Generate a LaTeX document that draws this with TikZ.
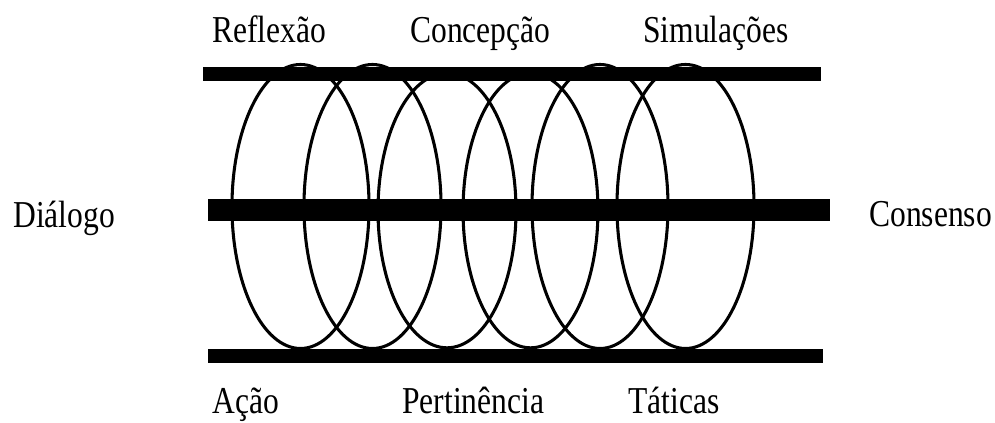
\documentclass[tikz,border=0pt]{standalone}
\usepackage{fontspec}
\setmainfont{Liberation Serif}[FakeStretch=0.83]
\begin{document}
\begin{tikzpicture}[x=0.75pt,y=-0.75pt,
  lbl/.style={inner sep=0pt,anchor=base west,font=\fontsize{28.5pt}{30pt}\selectfont},
  bar/.style={fill=black,draw=none},
  loop/.style={draw=black,line width=2.3pt}]
\useasboundingbox (0,0) rectangle (995,423);
% loops
\draw[loop] (300.5,206.5) ellipse [x radius=51.4pt, y radius=106.5pt];
\draw[loop] (372.5,206.5) ellipse [x radius=51.4pt, y radius=106.5pt];
\draw[loop] (447,210.5) ellipse [x radius=51.75pt, y radius=103pt];
\draw[loop] (530.5,210.5) ellipse [x radius=50.6pt, y radius=103pt];
\draw[loop] (600,206.5) ellipse [x radius=51pt, y radius=106.5pt];
\draw[loop] (685.5,206.5) ellipse [x radius=51.4pt, y radius=106.5pt];
% bars
\fill[bar] (203,67) rectangle (821,81);
\fill[bar] (208,199) rectangle (830,221);
\fill[bar] (208,349) rectangle (823,363);
% labels
\node[lbl] (reflexao) at (212,43) {Reflexão};
\node[lbl] (concepcao) at (410,43) {Concepção};
\node[lbl] (simulacoes) at (643,43) {Simulações};
\node[lbl] (dialogo) at (13,228) {Diálogo};
\node[lbl] (consenso) at (869,227) {Consenso};
\node[lbl] (acao) at (212,413) {Ação};
\node[lbl] (pertinencia) at (402,413) {Pertinência};
\node[lbl] (taticas) at (628,413) {Táticas};
\end{tikzpicture}
\end{document}
